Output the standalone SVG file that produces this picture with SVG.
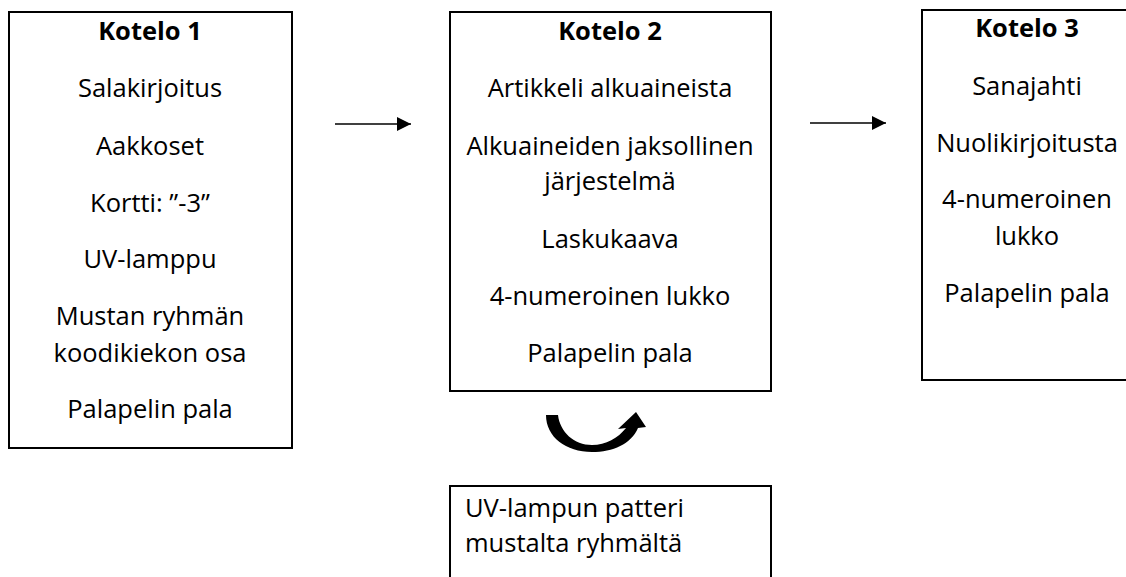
<svg xmlns="http://www.w3.org/2000/svg" width="1126" height="577" viewBox="0 0 1126 577">
<style>
.box{fill:#fff;stroke:#000;stroke-width:2}
text{font-family:"Open Sans","Liberation Sans",sans-serif;font-size:25.5px;fill:#000}
.c{text-anchor:middle}
.b{font-weight:bold}
.conn{stroke:#000;stroke-width:1.5;fill:none}
</style>
<defs>
<marker id="ah" viewBox="0 0 10 10" refX="10" refY="5" markerWidth="14" markerHeight="15" markerUnits="userSpaceOnUse" orient="auto">
<path d="M0,0 L10,5 L0,10 Z" fill="#000"/>
</marker>
</defs>
<g id="kotelo1">
<rect class="box" x="9" y="12" width="283" height="436"/>
<text class="c b" x="150" y="40">Kotelo 1</text>
<text class="c" x="150" y="97">Salakirjoitus</text>
<text class="c" x="150" y="155">Aakkoset</text>
<text class="c" x="150" y="212">Kortti: ”-3”</text>
<text class="c" x="150" y="268">UV-lamppu</text>
<text class="c" x="150" y="325">Mustan ryhmän</text>
<text class="c" x="150" y="362">koodikiekon osa</text>
<text class="c" x="150" y="418">Palapelin pala</text>
</g>
<g id="kotelo2">
<rect class="box" x="450" y="12" width="321" height="379"/>
<text class="c b" x="610" y="40">Kotelo 2</text>
<text class="c" x="610" y="97">Artikkeli alkuaineista</text>
<text class="c" x="610" y="155">Alkuaineiden jaksollinen</text>
<text class="c" x="610" y="190">järjestelmä</text>
<text class="c" x="610" y="248">Laskukaava</text>
<text class="c" x="610" y="305">4-numeroinen lukko</text>
<text class="c" x="610" y="362">Palapelin pala</text>
</g>
<g id="kotelo3">
<rect class="box" x="922" y="10" width="212" height="370"/>
<text class="c b" x="1027" y="37">Kotelo 3</text>
<text class="c" x="1027" y="95">Sanajahti</text>
<text class="c" x="1027" y="152">Nuolikirjoitusta</text>
<text class="c" x="1027" y="208">4-numeroinen</text>
<text class="c" x="1027" y="245">lukko</text>
<text class="c" x="1027" y="302">Palapelin pala</text>
</g>
<g id="patteri">
<rect class="box" x="450" y="486" width="321" height="100"/>
<text x="465" y="517">UV-lampun patteri</text>
<text x="465" y="552">mustalta ryhmältä</text>
</g>
<g id="connectors">
<line class="conn" x1="335" y1="124" x2="411" y2="124" marker-end="url(#ah)"/>
<line class="conn" x1="810" y1="123" x2="886" y2="123" marker-end="url(#ah)"/>
<path d="M546,415 L558,415 C560,432 574,445 592,445 C606,445 618,438 626,428 L618,429 L636,412 L646,427 L638,428 C631,444 613,452 592,452 C566,452 546,437 546,415 Z" fill="#000"/>
</g>
</svg>
